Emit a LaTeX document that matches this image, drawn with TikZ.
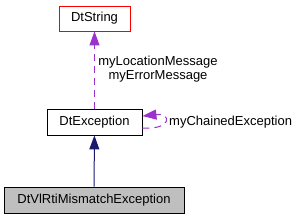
\documentclass[tikz,border=0pt]{standalone}
\usepackage{fontspec}
\setmainfont{Liberation Sans}
\usepackage{xcolor}
\usetikzlibrary{arrows.meta}

\definecolor{edgepurple}{HTML}{9A32CD}
\definecolor{edgenavy}{HTML}{191970}
\definecolor{boxgray}{HTML}{BFBFBF}

\begin{document}
\begin{tikzpicture}[
    x=1pt, y=-1pt,
    font=\fontsize{13}{15}\selectfont,
    box/.style={rectangle, draw, line width=0.9pt, minimum height=25pt, inner sep=0pt, align=center},
    usage/.style={-{Triangle[length=14pt, width=10pt]}, dashed, dash pattern=on 7pt off 5pt, edgepurple, line width=1pt},
    inherit/.style={-{Triangle[length=14pt, width=10pt]}, edgenavy, line width=1pt},
    lbl/.style={inner sep=0pt, align=center, font=\fontsize{13}{14}\selectfont}
]
    \useasboundingbox (0,0) rectangle (300,219);

    \node[box, draw=red, minimum width=71pt] (string) at (94.5,18.5) {DtString};
    \node[box, minimum width=95pt, minimum height=26pt] (exception) at (94.5,122) {DtException};
    \node[box, fill=boxgray, minimum width=180pt, minimum height=26pt] (mismatch) at (94,200) {DtVlRtiMismatchException};

    \coordinate (loopout) at (exception.east |- 0,128);
    \coordinate (loopin) at (exception.east |- 0,116);

    \draw[inherit] (mismatch) -- (exception);
    \draw[usage] (exception.north) -- (string.south);
    \draw[usage] (loopout) .. controls (172,130) and (172,113) .. (loopin);

    \node[lbl] (locmsg) at (158,69) {myLocationMessage\\myErrorMessage};
    \node[lbl, anchor=west] (chained) at (169,122) {myChainedException};
\end{tikzpicture}
\end{document}
